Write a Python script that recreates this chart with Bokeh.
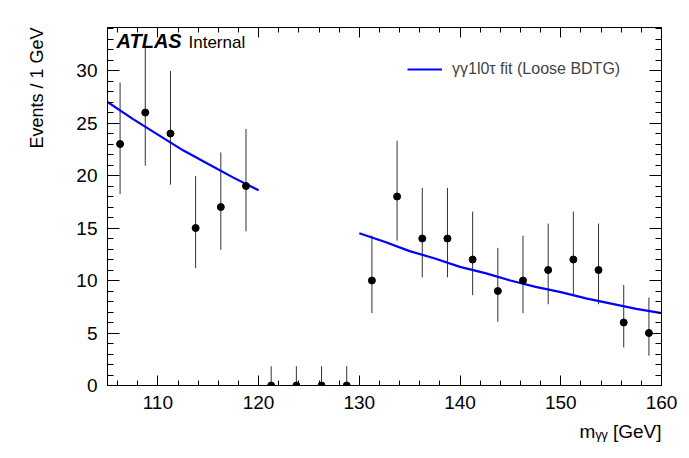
from bokeh.plotting import figure
from bokeh.models import (LinearAxis, SingleIntervalTicker, Label, Legend,
                          LegendItem, Range1d, ColumnDataSource, Title,
                          CustomJSTickFormatter)
from bokeh.embed import file_html
from bokeh.resources import INLINE

# Diphoton invariant mass bins (bin centres, GeV) and observed event counts
bin_centers = [106.25, 108.75, 111.25, 113.75, 116.25, 118.75, 121.25, 123.75,
               126.25, 128.75, 131.25, 133.75, 136.25, 138.75, 141.25, 143.75,
               146.25, 148.75, 151.25, 153.75, 156.25, 158.75]
counts = [23, 26, 24, 15, 17, 19, 0, 0, 0, 0, 10, 18, 14, 14, 12, 9, 10, 11,
          12, 11, 6, 5]
# Asymmetric (Poisson) uncertainties on each count
err_down = [4.77, 5.07, 4.87, 3.83, 4.08, 4.32, 0.0, 0.0, 0.0, 0.0, 3.11, 4.20,
            3.70, 3.70, 3.40, 2.94, 3.11, 3.26, 3.40, 3.26, 2.38, 2.16]
err_up = [5.86, 6.16, 5.96, 4.95, 5.20, 5.44, 1.84, 1.84, 1.84, 1.84, 4.27, 5.32,
          4.83, 4.83, 4.56, 4.11, 4.27, 4.42, 4.56, 4.42, 3.58, 3.38]

# Sideband fit curve (signal window 120-130 GeV is blinded)
fit_x_low = [105.0, 107.5, 110.0, 112.5, 115.0, 117.5, 120.0]
fit_y_low = [27.0, 25.4, 23.9, 22.4, 21.1, 19.8, 18.6]
fit_x_high = [130.0, 132.5, 135.0, 137.5, 140.0, 142.5, 145.0, 147.5, 150.0,
              152.5, 155.0, 157.5, 160.0]
fit_y_high = [14.5, 13.7, 12.8, 12.1, 11.3, 10.7, 10.0, 9.4, 8.9, 8.3, 7.8,
              7.3, 6.9]

x_title = "m\u1d67\u1d67 [GeV]"
y_title = "Events / 1 GeV"

FONT = "Liberation Sans"

p = figure(frame_width=554, frame_height=358,
           min_border_left=107, min_border_right=28,
           min_border_top=27, min_border_bottom=73,
           x_range=Range1d(105, 160), y_range=Range1d(0, 34.1),
           x_axis_type=None, y_axis_type=None,
           output_backend="svg", toolbar_location=None)
p.xgrid.visible = False
p.ygrid.visible = False
p.outline_line_color = "black"
p.outline_line_width = 1
p.background_fill_color = "white"
p.border_fill_color = "white"


def make_axis(interval, major_len, minor_len, labels):
    ax = LinearAxis(ticker=SingleIntervalTicker(interval=interval, num_minor_ticks=5))
    ax.axis_line_color = "black"
    ax.major_tick_line_color = "black"
    ax.minor_tick_line_color = "black"
    ax.major_tick_in = major_len
    ax.major_tick_out = 0
    ax.minor_tick_in = minor_len
    ax.minor_tick_out = 0
    ax.major_label_text_font = FONT
    ax.major_label_text_color = "black"
    if labels:
        ax.major_label_text_font_size = "19px"
        ax.major_label_standoff = 10
    else:
        # tick marks only on the opposite sides of the frame
        ax.formatter = CustomJSTickFormatter(code="return ''")
        ax.major_label_text_font_size = "1px"
        ax.major_label_standoff = 0
    return ax


p.add_layout(make_axis(10, 10, 5, True), "below")
p.add_layout(make_axis(10, 10, 5, False), "above")
p.add_layout(make_axis(5, 12, 6, True), "left")
p.add_layout(make_axis(5, 12, 6, False), "right")

# Axis titles, placed at the high end of each axis
p.add_layout(Title(text=x_title, align="right", text_font=FONT,
                   text_font_style="normal", text_font_size="19px",
                   text_color="black", standoff=14), "below")
p.add_layout(Title(text=y_title, align="right", vertical_align="top",
                   text_font=FONT, text_font_style="normal",
                   text_font_size="18px", text_color="black", standoff=50), "left")

# Data points with vertical error bars
lo = [c - d for c, d in zip(counts, err_down)]
hi = [c + u for c, u in zip(counts, err_up)]
src = ColumnDataSource(dict(x=bin_centers, y=counts, lo=lo, hi=hi))
p.segment(x0="x", y0="lo", x1="x", y1="hi", source=src,
          line_color="#333333", line_width=1)

# Fit curve drawn as one line with a gap over the blinded region
fit_x = fit_x_low + [float("nan")] + fit_x_high
fit_y = fit_y_low + [float("nan")] + fit_y_high
fit = p.line(fit_x, fit_y, line_color="#0000ff", line_width=2.2)

p.scatter("x", "y", source=src, size=7, color="black")

legend = Legend(items=[LegendItem(label="γγ1l0τ fit (Loose BDTG)", renderers=[fit])],
                location=(300, 307), padding=0, margin=0, spacing=0,
                glyph_width=35, glyph_height=14, label_standoff=10,
                label_text_font=FONT, label_text_font_size="16px",
                border_line_color=None, background_fill_alpha=0)
p.add_layout(legend)

# Experiment label
p.add_layout(Label(x=9, y=334, x_units="screen", y_units="screen", text="ATLAS",
                   text_font=FONT, text_font_style="bold italic",
                   text_font_size="20px", text_color="black"))
p.add_layout(Label(x=81, y=334, x_units="screen", y_units="screen", text="Internal",
                   text_font=FONT, text_font_size="17px", text_color="black"))

open("out.html", "w").write(file_html(p, INLINE))
